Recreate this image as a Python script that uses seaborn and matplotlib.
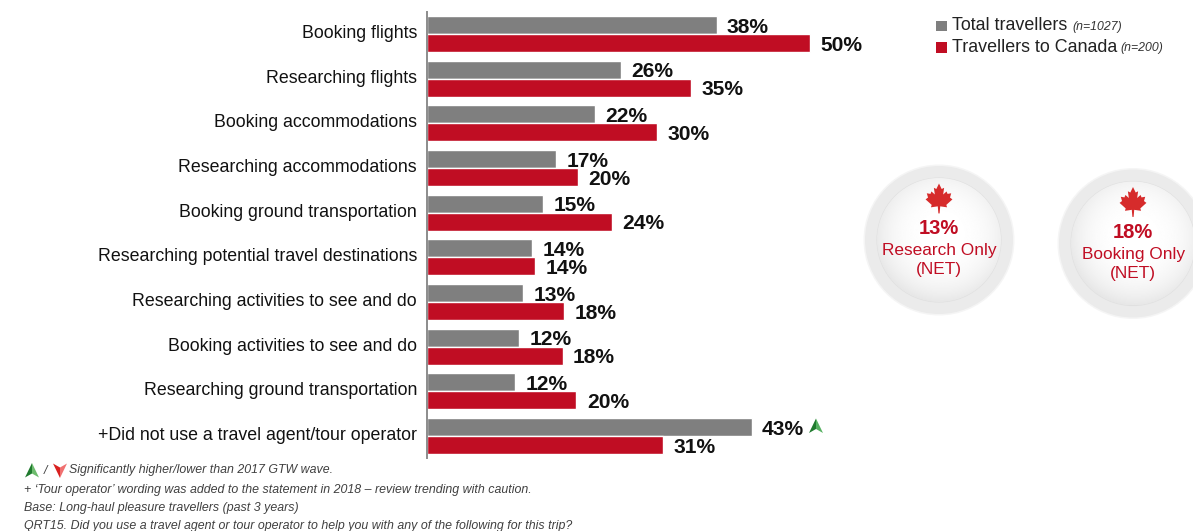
import numpy as np
import pandas as pd
import matplotlib
matplotlib.use("Agg")
import matplotlib.pyplot as plt
from matplotlib.patches import Circle, Polygon, Rectangle
from matplotlib.transforms import ScaledTranslation
import seaborn as sns

categories = ["Booking flights", "Researching flights", "Booking accommodations",
              "Researching accommodations", "Booking ground transportation",
              "Researching potential travel destinations", "Researching activities to see and do",
              "Booking activities to see and do", "Researching ground transportation",
              "+Did not use a travel agent/tour operator"]
# bar lengths; they round to the printed labels
total_travellers = [38.0, 25.5, 22.0, 16.9, 15.2, 13.8, 12.6, 12.1, 11.6, 42.6]
to_canada = [50.3, 34.6, 30.2, 19.8, 24.3, 14.2, 18.0, 17.8, 19.6, 31.0]
series_names = ["Total travellers", "Travellers to Canada"]
series_notes = ["(n=1027)", "(n=200)"]
colors = ["#7f7f7f", "#c00d23"]
footnotes = ["Significantly higher/lower than 2017 GTW wave.",
             "+ \u2018Tour operator\u2019 wording was added to the statement in 2018 \u2013 review trending with caution.",
             "Base: Long-haul pleasure travellers (past 3 years)",
             "QRT15. Did you use a travel agent or tour operator to help you with any of the following for this trip?"]
badges = [("13%", "Research Only", "(NET)"), ("18%", "Booking Only", "(NET)")]

W, H = 1193, 531
sns.set_theme(style="white")
plt.rcParams["font.family"] = ["Liberation Sans", "DejaVu Sans"]

df = pd.DataFrame({"category": categories * 2,
                   "value": total_travellers + to_canada,
                   "series": [series_names[0]] * 10 + [series_names[1]] * 10})

fig = plt.figure(figsize=(W / 100, H / 100), dpi=100, facecolor="white")
left, right, top, bottom = 427, 860, 11.7, 458.3
ax = fig.add_axes([left / W, 1 - bottom / H, (right - left) / W, (bottom - top) / H])
sns.barplot(data=df, y="category", x="value", hue="series", order=categories,
            hue_order=series_names, palette=colors, width=0.81, saturation=1,
            legend=False, ax=ax, orient="h")
ax.set_xlim(0, (right - left) / 7.62)
ax.set_ylim(9.5, -0.5)
ax.set_xlabel("")
ax.set_ylabel("")
ax.xaxis.set_visible(False)
ax.tick_params(axis="y", length=0, pad=7.2, labelsize=12.8, labelcolor="#111111")
shift = ScaledTranslation(0, 2.5 / 100, fig.dpi_scale_trans)
for lab in ax.get_yticklabels():
    lab.set_transform(lab.get_transform() + shift)
for s in ["top", "right", "bottom"]:
    ax.spines[s].set_visible(False)
ax.spines["left"].set_color("#8c8c8c")
ax.spines["left"].set_linewidth(1.4)
ax.patch.set_alpha(0)
for cont in ax.containers:
    for t in ax.bar_label(cont, fmt="%.0f%%", padding=7.5, fontsize=15.1, fontweight="bold", color="#111111"):
        x0, y0 = t.xyann
        t.xyann = (x0, y0 - 1.5)

ov = fig.add_axes([0, 0, 1, 1], zorder=5)
ov.set_xlim(0, W)
ov.set_ylim(H, 0)
ov.axis("off")
ov.patch.set_alpha(0)

# legend
renderer = fig.canvas.get_renderer()
for name, note, col, y, gap in zip(series_names, series_notes, colors, [26, 47.5], [5, 3.5]):
    ov.add_patch(Rectangle((936, y - 5.5), 10.5, 10.5, color=col, lw=0))
    t = ov.text(952, y, name, fontsize=12.85, va="center", color="#222222")
    bb = t.get_window_extent(renderer)
    ov.text(bb.x1 + gap, y + 1, note, fontsize=8.8, style="italic", va="center", color="#333333")

LEAF = np.array([(0, -13.5), (2.2, -9), (4.2, -10), (3.4, -4.5), (6.2, -7), (7, -5), (10, -5.5), (9, -2),
                 (11, -0.5), (6, 4), (6.6, 6), (1, 5.2), (0.5, 11), (-0.5, 11), (-1, 5.2), (-6.6, 6),
                 (-6, 4), (-11, -0.5), (-9, -2), (-10, -5.5), (-7, -5), (-6.2, -7), (-3.4, -4.5),
                 (-4.2, -10), (-2.2, -9)]) * 1.22

yy, xx = np.mgrid[-1:1:200j, -1:1:200j]
shade = np.clip(1.0 - 0.07 * np.hypot(xx - 0.05, yy + 0.1) ** 3, 0, 1)

for (pct, l1, l2), (cx, cy), dy in zip(badges, [(939, 240), (1133, 243.5)], [0, 0.5]):
    for r, c in [(75.5, "#f5f5f5"), (74, "#ebebeb")]:
        ov.add_patch(Circle((cx, cy), r, color=c, lw=0))
    inner = Circle((cx, cy), 62, color="#f4f4f4", ec="#e0e0e0", lw=0.8)
    ov.add_patch(inner)
    im = ov.imshow(shade, extent=(cx - 62, cx + 62, cy + 62, cy - 62), cmap="gray",
                   vmin=0, vmax=1, zorder=1.5, aspect="auto")
    im.set_clip_path(inner)
    ov.add_patch(Polygon(LEAF + (cx, cy - 40), closed=True, color="#d62b2b", lw=0, zorder=3))
    ov.text(cx, cy - 11.5 + dy, pct, fontsize=14.5, fontweight="bold", color="#c00d23", ha="center", va="center", zorder=4)
    ov.text(cx, cy + 10.5 + dy, l1, fontsize=12.4, color="#c00d23", ha="center", va="center", zorder=4)
    ov.text(cx, cy + 29.5 + dy, l2, fontsize=12.4, color="#c00d23", ha="center", va="center", zorder=4)
ov.set_xlim(0, W)
ov.set_ylim(H, 0)

def arrow(cx, cy, dark, light, up=True):
    pts = np.array([(0, -7.5), (7, 7), (0, 3), (-7, 7)], dtype=float)
    if not up:
        pts[:, 1] *= -1
    ov.add_patch(Polygon(pts[[0, 1, 2]] + (cx, cy), closed=True, color=light, lw=0, zorder=4))
    ov.add_patch(Polygon(pts[[0, 2, 3]] + (cx, cy), closed=True, color=dark, lw=0, zorder=4))

arrow(816, 426, "#1f7a2e", "#55b060")
arrow(32, 470.5, "#1f7a2e", "#6dbb6d")
arrow(60, 470.5, "#d9201f", "#f07070", up=False)

ov.text(44, 470.5, "/", fontsize=8.9, style="italic", color="#404040", va="center")
for txt, x, y in zip(footnotes, [69, 24, 24, 24], [470.5, 490, 508, 526]):
    ov.text(x, y, txt, fontsize=8.9, style="italic", color="#404040", va="center", clip_on=True)

fig.savefig("out.png", dpi=100)
